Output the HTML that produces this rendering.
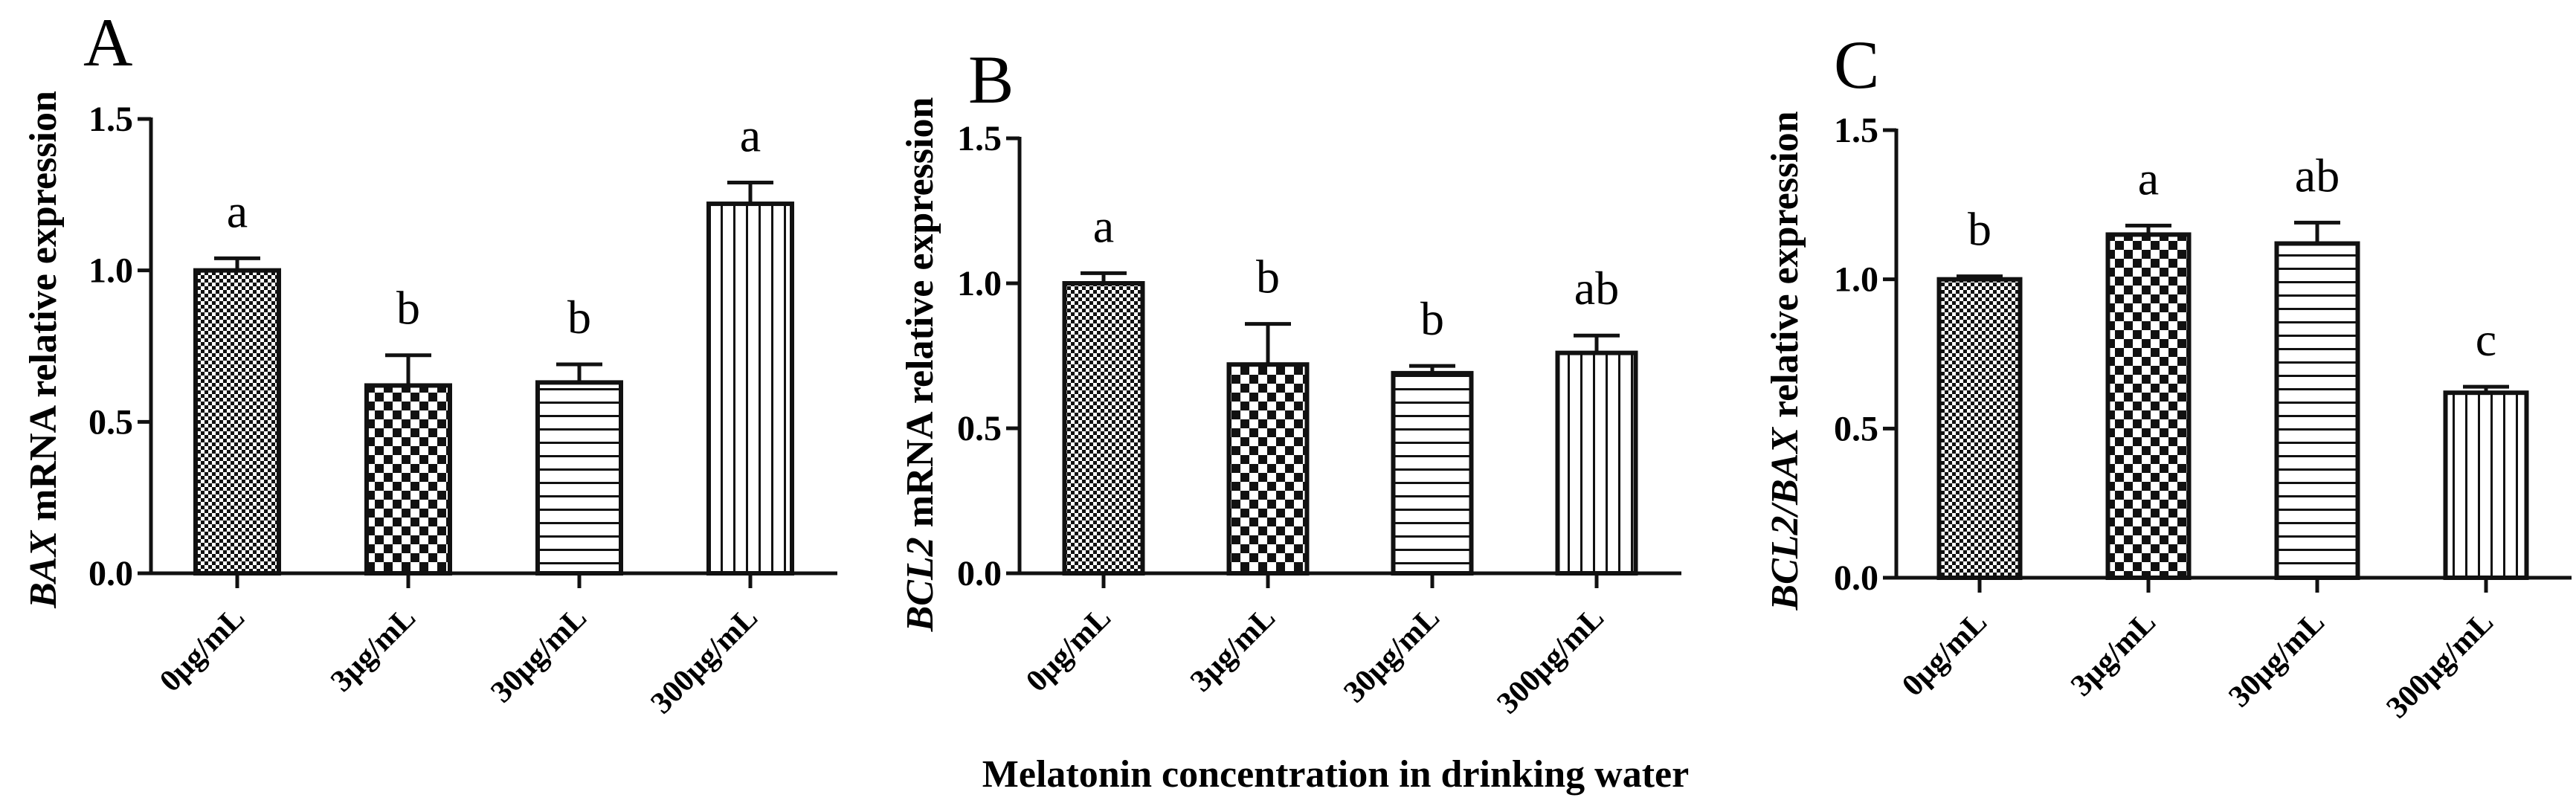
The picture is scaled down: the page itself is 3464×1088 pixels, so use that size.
<!DOCTYPE html>
<html><head><meta charset="utf-8"><style>
html,body{margin:0;padding:0;background:#fff;}
svg{display:block;font-family:"Liberation Serif",serif;}
</style></head><body>
<svg id="fig" width="3464" height="1088" viewBox="0 0 3464 1088" xmlns="http://www.w3.org/2000/svg">
<defs>
<pattern id="pFine" width="10" height="10" patternUnits="userSpaceOnUse"><rect width="10" height="10" fill="#fff"/><rect width="5" height="5" fill="#111"/><rect x="5" y="5" width="5" height="5" fill="#111"/></pattern>
<pattern id="pCoarse" width="24" height="24" patternUnits="userSpaceOnUse"><rect width="24" height="24" fill="#fff"/><rect width="12" height="12" fill="#111"/><rect x="12" y="12" width="12" height="12" fill="#111"/></pattern>
<pattern id="pHoriz" width="10" height="18" patternUnits="userSpaceOnUse"><rect width="10" height="18" fill="#fff"/><rect y="0" width="10" height="3" fill="#111"/></pattern>
<pattern id="pVert" width="17" height="10" patternUnits="userSpaceOnUse"><rect width="17" height="10" fill="#fff"/><rect x="0" width="3" height="10" fill="#111"/></pattern>
</defs>
<text x="1796" y="1058" font-size="52" font-weight="bold" text-anchor="middle">Melatonin concentration in drinking water</text>
</svg>
<script>
const categories = ["0μg/mL","3μg/mL","30μg/mL","300μg/mL"];
const valuesA = [1.0, 0.62, 0.63, 1.22];
const errorsA = [0.04, 0.10, 0.06, 0.07];
const lettersA = ["a","b","b","a"];
const valuesB = [1.0, 0.72, 0.69, 0.76];
const errorsB = [0.035, 0.14, 0.025, 0.06];
const lettersB = ["a","b","b","ab"];
const valuesC = [1.0, 1.15, 1.12, 0.62];
const errorsC = [0.01, 0.03, 0.07, 0.02];
const lettersC = ["b","a","ab","c"];
const yTicks = [0.0, 0.5, 1.0, 1.5];
const yTickLabels = ["0.0","0.5","1.0","1.5"];
const patterns = ["pFine","pCoarse","pHoriz","pVert"];

const NS = "http://www.w3.org/2000/svg";
const svg = document.getElementById("fig");
function mk(tag, attrs, parent){
  const e = document.createElementNS(NS, tag);
  for (const k in attrs) e.setAttribute(k, attrs[k]);
  (parent||svg).appendChild(e);
  return e;
}
const panels = [
  {id:"a", letter:"A", lx:112, ly:88, axisX:203, axisEnd:1126, y0:771, yTop:160, first:319, step:230, bw:118,
   vals:valuesA, errs:errorsA, sig:lettersA, titleX:58, titleY:470, title:[["BAX","italic"],[" mRNA relative expression","normal"]]},
  {id:"b", letter:"B", lx:1302, ly:138, axisX:1371, axisEnd:2261, y0:771, yTop:186, first:1484, step:221, bw:111,
   vals:valuesB, errs:errorsB, sig:lettersB, titleX:1237, titleY:490, title:[["BCL2","italic"],[" mRNA relative expression","normal"]]},
  {id:"c", letter:"C", lx:2466, ly:118, axisX:2550, axisEnd:3458, y0:777, yTop:175, first:2662, step:227, bw:115,
   vals:valuesC, errs:errorsC, sig:lettersC, titleX:2400, titleY:485, title:[["BCL2/BAX","italic"],[" relative expression","normal"]]}
];
panels.forEach(p => {
  const g = mk("g", {});
  
  
  const ys = v => p.y0 - (v/1.5)*(p.y0 - p.yTop);
  const xs = i => p.first + i*p.step;
  const pl = mk("text", {x:p.lx, y:p.ly, "font-size":92}, g);
  pl.textContent = p.letter;
  
  
  // y title
  const t = mk("text", {x:p.titleX, y:p.titleY, "font-size":52, "font-weight":"bold", "text-anchor":"middle", "dominant-baseline":"central", transform:`rotate(-90 ${p.titleX} ${p.titleY})`}, g);
  
  
  p.title.forEach(([s, st]) => { const ts = mk("tspan", {"font-style":st}, t); ts.textContent = s; });
  // bars
  p.vals.forEach((v, i) => {
    const cx = xs(i), top = ys(v), et = ys(v + p.errs[i]);
    const eb = mk("line", {x1:cx, y1:top, x2:cx, y2:et, stroke:"#111", "stroke-width":5}, g);
    
    
    const cap = mk("line", {x1:cx-31, y1:et, x2:cx+31, y2:et, stroke:"#111", "stroke-width":5}, g);
    
    
    const r = mk("rect", {x:cx - p.bw/2 + 3, y:top, width:p.bw - 6, height:p.y0 - top, fill:`url(#${patterns[i]})`, stroke:"#111", "stroke-width":6}, g);
    
    
    const sl = mk("text", {x:cx, y:et - 42, "font-size":64, "text-anchor":"middle"}, g);
    sl.textContent = p.sig[i];
    
    
    const tk = mk("line", {x1:cx, y1:p.y0, x2:cx, y2:p.y0 + 20, stroke:"#111", "stroke-width":5}, g);
    
    
    const lx = cx + 12, ly = p.y0 + 62;
    const xl = mk("text", {x:lx, y:ly, "font-size":42, "font-weight":"bold", "text-anchor":"end", transform:`rotate(-45 ${lx} ${ly})`}, g);
    xl.textContent = categories[i];
    
    
  });
  // axes
  const ya = mk("line", {x1:p.axisX, y1:ys(1.5) - 2, x2:p.axisX, y2:p.y0 + 2.5, stroke:"#111", "stroke-width":5}, g);
  
  
  const xa = mk("line", {x1:p.axisX - 2.5, y1:p.y0, x2:p.axisEnd, y2:p.y0, stroke:"#111", "stroke-width":5}, g);
  
  
  yTicks.forEach((tv, j) => {
    const yy = ys(tv);
    const tl = mk("line", {x1:p.axisX - 18, y1:yy, x2:p.axisX, y2:yy, stroke:"#111", "stroke-width":5}, g);
    
    
    const tt = mk("text", {x:p.axisX - 24, y:yy + 16, "font-size":48, "font-weight":"bold", "text-anchor":"end"}, g);
    tt.textContent = yTickLabels[j];
    
    
  });
});
</script>
</body></html>
